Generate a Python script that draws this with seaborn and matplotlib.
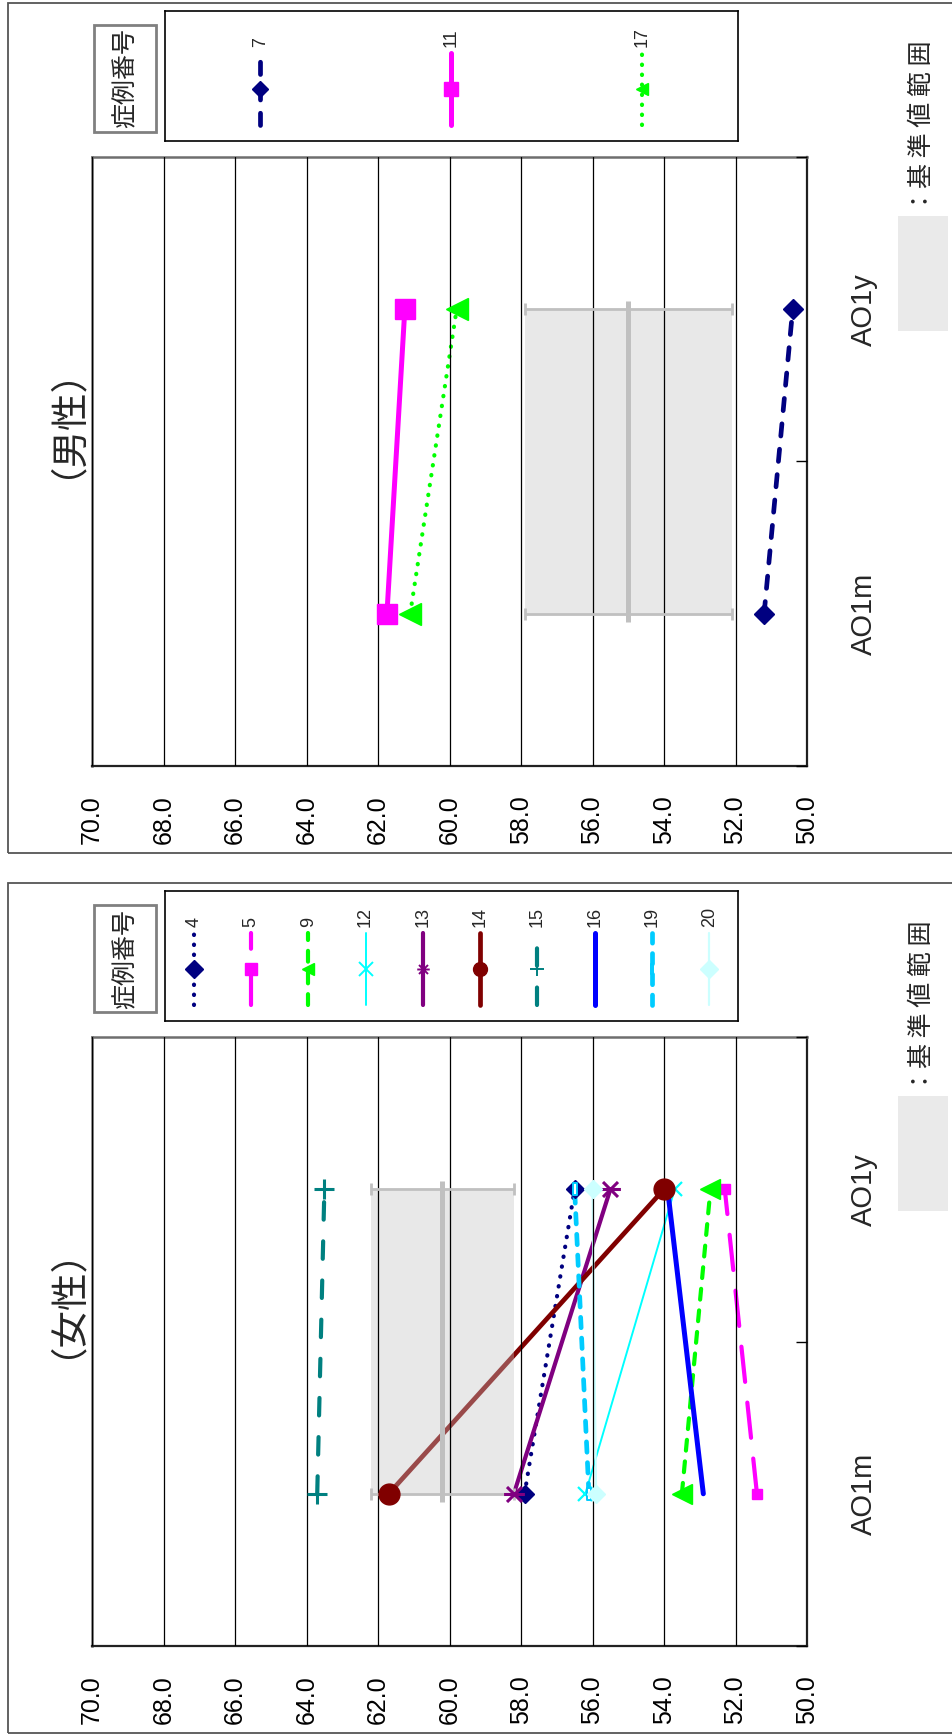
import numpy as np
import pandas as pd
import matplotlib
matplotlib.use("Agg")
import matplotlib.pyplot as plt
from matplotlib.patches import Rectangle
from matplotlib.path import Path
import seaborn as sns

# ---------------------------------------------------------------- data
periods = ["AO1m", "AO1y"]
value_ticks = [50.0, 52.0, 54.0, 56.0, 58.0, 60.0, 62.0, 64.0, 66.0, 68.0, 70.0]

female_cases = ["4", "5", "9", "12", "13", "14", "15", "16", "19", "20"]
female_ao1m = [57.9, 51.4, 53.5, 56.2, 58.2, 61.7, 63.7, 52.9, 56.1, 55.9]
female_ao1y = [56.5, 52.3, 52.7, 53.7, 55.5, 54.0, 63.5, 53.9, 56.5, 56.0]
female_ref_low, female_ref_mean, female_ref_high = 58.2, 60.2, 62.2

male_cases = ["7", "11", "17"]
male_ao1m = [51.2, 61.75, 61.1]
male_ao1y = [50.4, 61.25, 59.8]
male_ref_low, male_ref_mean, male_ref_high = 52.1, 55.0, 57.9

# ---------------------------------------------------------------- styles
sns.set_theme(style="white")
plt.rcParams["font.family"] = ["Liberation Sans", "Noto Sans CJK JP", "DejaVu Sans"]
JP = ["Noto Sans CJK JP", "DejaVu Sans"]

W, H = 953, 1735
DPI = 100

# asterisk marker: an "x" crossed by a bar
asterisk = Path(
    [(-1, 0), (1, 0), (-0.72, -0.72), (0.72, 0.72), (-0.72, 0.72), (0.72, -0.72)],
    [Path.MOVETO, Path.LINETO, Path.MOVETO, Path.LINETO, Path.MOVETO, Path.LINETO],
)
# narrow bar marker
bar = Path(
    [(-0.3, -1), (0.3, -1), (0.3, 1), (-0.3, 1), (-0.3, -1)],
    [Path.MOVETO, Path.LINETO, Path.LINETO, Path.LINETO, Path.CLOSEPOLY],
)

case_style = {
    "4":  dict(color="#000080", lw=3.0, ls=(0, (0.1, 2.3)), marker="D", ms=9, mfc="#000080", mew=1, lms=9),
    "5":  dict(color="#FF00FF", lw=3.0, ls=(0, (8.5, 5)), marker="s", ms=7.5, mfc="#FF00FF", mew=1, lms=8),
    "7":  dict(color="#000080", lw=3.4, ls=(0, (2.6, 2.8)), marker="D", ms=10, mfc="#000080", mew=1, lms=8),
    "9":  dict(color="#00FF00", lw=3.0, ls=(0, (2.6, 2.6)), marker="<", ms=15, mfc="#00FF00", mew=1, lms=9),
    "11": dict(color="#FF00FF", lw=3.6, ls="-", marker="s", ms=15, mfc="#FF00FF", mew=1, lms=10),
    "12": dict(color="#00FFFF", lw=1.4, ls="-", marker="x", ms=10, mfc="none", mew=1.6, lms=10),
    "13": dict(color="#800080", lw=3.0, ls="-", marker=asterisk, ms=15, mfc="none", mew=2.2, lms=9),
    "14": dict(color="#800000", lw=3.4, ls="-", marker="o", ms=15, mfc="#800000", mew=1, lms=10),
    "15": dict(color="#008080", lw=3.0, ls=(0, (4.2, 5.2)), marker="+", ms=15, mfc="none", mew=2.2, lms=10),
    "16": dict(color="#0000FF", lw=3.6, ls="-", marker=None, ms=0, mfc="none", mew=0, lms=0),
    "17": dict(color="#00FF00", lw=3.0, ls=(0, (0.1, 2.3)), marker="<", ms=16, mfc="#00FF00", mew=1, lms=9),
    "19": dict(color="#00CCFF", lw=3.4, ls=(0, (2.2, 2.2)), marker=bar, ms=9, mfc="white", mew=1.4, lms=7),
    "20": dict(color="#CCFFFF", lw=1.6, ls="-", marker="D", ms=9, mfc="#CCFFFF", mew=1, lms=9),
}

BAND = "#C4C4C4"
REF = "#C0C0C0"


def frac(x0, y0, x1, y1):
    """Pixel box (top-left origin) -> figure fraction [left, bottom, width, height]."""
    return [x0 / W, 1 - y1 / H, (x1 - x0) / W, (y1 - y0) / H]


def draw_panel(fig, top, cases, ao1m, ao1y, low, mean, high, title):
    # outer frame of the panel
    fig.add_artist(Rectangle((8 / W, 1 - (top + 850) / H), 960 / W, 850 / H,
                             transform=fig.transFigure, fill=False,
                             ec="#555555", lw=1.3))

    ax = fig.add_axes(frac(92, top + 154, 807, top + 763))

    df = pd.DataFrame({
        "case": np.repeat(cases, len(periods)),
        "period": periods * len(cases),
        "value": np.ravel(np.column_stack([ao1m, ao1y])),
    })
    df["pos"] = df["period"].map({p: i for i, p in enumerate(periods)})

    # reference range band, drawn over the connecting lines
    ax.fill_betweenx([0, 1], low, high, color=BAND, alpha=0.38, lw=0, zorder=2.2)

    # reference mean and range bars
    ref = pd.DataFrame({"value": [mean, mean], "pos": [0, 1]})
    sns.lineplot(data=ref, x="value", y="pos", estimator=None, sort=False, ax=ax,
                 color=REF, lw=3.6, marker="|", markersize=11, mec=REF, mew=3.6,
                 zorder=2.6, legend=False)
    ax.errorbar(ref["value"], ref["pos"], xerr=[[mean - low] * 2, [high - mean] * 2],
                fmt="none", ecolor=REF, elinewidth=2.0, capsize=4.5, capthick=2.0,
                zorder=2.6)

    for c in cases:
        st = case_style[c]
        sub = df[df["case"] == c]
        sns.lineplot(data=sub, x="value", y="pos", estimator=None, sort=False, ax=ax,
                     color=st["color"], lw=st["lw"], linestyle=st["ls"],
                     dash_capstyle="round", solid_capstyle="round",
                     zorder=2, legend=False)
        if st["marker"] is not None:
            sns.lineplot(data=sub, x="value", y="pos", estimator=None, sort=False, ax=ax,
                         color=st["color"], linestyle="none", marker=st["marker"],
                         markersize=st["ms"], mfc=st["mfc"], mec=st["color"],
                         mew=st["mew"], zorder=3, legend=False)

    ax.set_xlim(70, 50)
    ax.set_ylim(-0.5, len(periods) - 0.5)
    ax.set_xlabel("")
    ax.set_ylabel("")

    ax.set_xticks(value_ticks)
    ax.set_xticklabels([f"{v:.1f}" for v in value_ticks])
    ax.tick_params(axis="x", length=0, pad=21, labelsize=18, labelrotation=90,
                   colors="black")
    ax.set_axisbelow(False)
    ax.grid(axis="x", color="black", lw=0.9)
    ax.grid(axis="y", visible=False)

    ax.yaxis.tick_right()
    ax.set_yticks(np.arange(len(periods) + 1) - 0.5)
    ax.set_yticklabels([])
    ax.set_yticks(np.arange(len(periods)), minor=True)
    ax.set_yticklabels(periods, minor=True)
    ax.tick_params(axis="y", which="major", direction="in", length=8, width=1,
                   color="black", right=True, left=False)
    ax.tick_params(axis="y", which="minor", length=0, pad=31, labelsize=21,
                   labelrotation=90, right=True, left=False)
    for lab in ax.get_yticklabels(minor=True):
        lab.set_va("center")

    for side in ("left", "top"):
        ax.spines[side].set_color("#6E6E6E")
        ax.spines[side].set_linewidth(1.8)
    for side in ("right", "bottom"):
        ax.spines[side].set_color("#222222")
        ax.spines[side].set_linewidth(1.6)

    # panel title
    fig.text(47 / W, 1 - (top + 400) / H, title, rotation=90, ha="center",
             va="center", fontsize=27, family=JP)

    # legend: header box
    hb = frac(94, top + 22, 156, top + 129)
    fig.add_artist(Rectangle((hb[0], hb[1]), hb[2], hb[3], transform=fig.transFigure,
                             fill=False, ec="#808080", lw=2))
    fig.text(hb[0] + hb[2] / 2, hb[1] + hb[3] / 2, "症例番号", rotation=90,
             ha="center", va="center", fontsize=18, family=JP)

    # legend: entries
    lax = fig.add_axes(frac(165, top + 8, 738, top + 138))
    n = len(cases)
    lax.set_xlim(0, n)
    lax.set_ylim(0, 1)
    lax.set_xticks([])
    lax.set_yticks([])
    lax.set_facecolor("white")
    for s in lax.spines.values():
        s.set_color("black")
        s.set_linewidth(1.2)
    for i, c in enumerate(cases):
        st = case_style[c]
        xc = i + 0.5
        lax.plot([xc, xc], [0.12, 0.68], color=st["color"], lw=st["lw"],
                 linestyle=st["ls"], dash_capstyle="round", solid_capstyle="round")
        if st["marker"] is not None:
            lax.plot([xc], [0.40], linestyle="none", marker=st["marker"],
                     markersize=st["lms"], mfc=st["mfc"], mec=st["color"],
                     mew=min(st["mew"], 1.4))
        lax.text(xc, 0.72, c, rotation=90, ha="center", va="bottom", fontsize=13)

    # legend: reference range swatch
    sw = frac(898, top + 213, 948, top + 328)
    fig.add_artist(Rectangle((sw[0], sw[1]), sw[2], sw[3], transform=fig.transFigure,
                             fc="#EAEAEA", ec="none"))
    fig.text(922 / W, 1 - (top + 124) / H, "：基 準 値 範 囲", rotation=90,
             ha="center", va="center", fontsize=18, family=JP)
    return ax


fig = plt.figure(figsize=(W / DPI, H / DPI), dpi=DPI)
fig.patch.set_facecolor("white")

draw_panel(fig, 3, male_cases, male_ao1m, male_ao1y,
           male_ref_low, male_ref_mean, male_ref_high, "（男性）")
draw_panel(fig, 883, female_cases, female_ao1m, female_ao1y,
           female_ref_low, female_ref_mean, female_ref_high, "（女性）")

fig.savefig("out.png", dpi=DPI)
